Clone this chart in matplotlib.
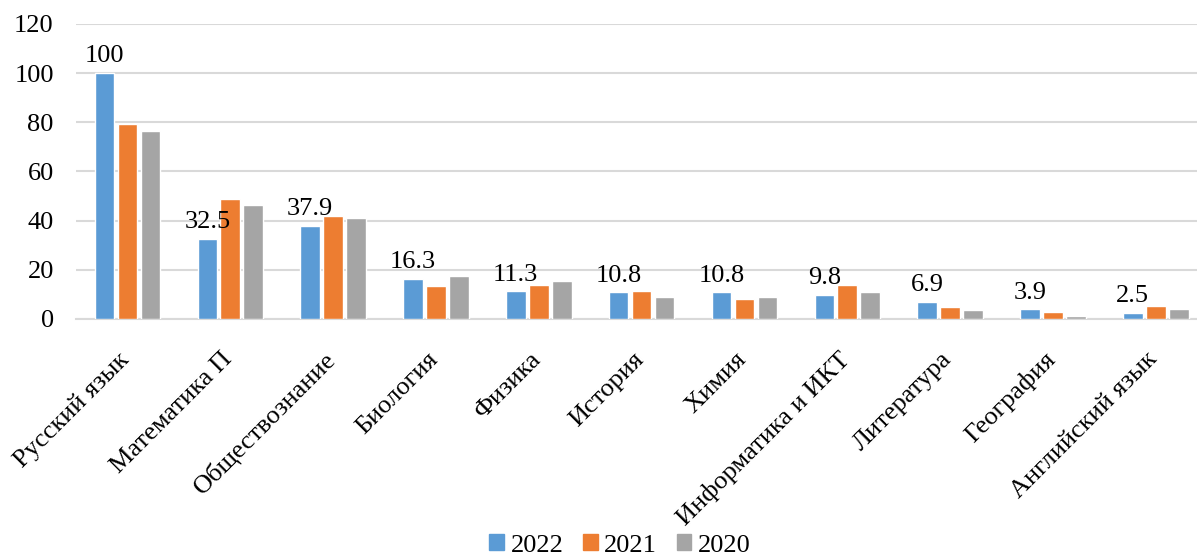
import numpy as np
import matplotlib.pyplot as plt
from matplotlib.patches import Patch

# Data
subjects = ["Русский язык", "Математика П", "Обществознание", "Биология", "Физика",
            "История", "Химия", "Информатика и ИКТ", "Литература", "География",
            "Английский язык"]
vals_2022 = [100, 32.5, 37.9, 16.3, 11.3, 10.8, 10.8, 9.8, 6.9, 3.9, 2.5]
vals_2021 = [79.1, 48.7, 41.8, 13.6, 13.8, 11.2, 8.3, 13.7, 4.9, 3.0, 5.2]
vals_2020 = [76.3, 46.3, 40.9, 17.5, 15.6, 8.8, 8.8, 10.9, 3.8, 1.2, 4.1]
years = ["2022", "2021", "2020"]
colors = ["#5B9BD5", "#ED7D31", "#A5A5A5"]

plt.rcParams['font.family'] = ['Liberation Serif', 'DejaVu Serif']

fig = plt.figure(figsize=(11.97, 5.6), dpi=100)
# the plot area runs a little past the right edge, as in the reference
ax = fig.add_axes([0.0635, 0.4304, 0.945, 0.527])

x = np.arange(len(subjects))
step = 0.2235
width = 0.19
series = [vals_2022, vals_2021, vals_2020]
bars = []
for i, (vals, col) in enumerate(zip(series, colors)):
    b = ax.bar(x + (i - 1) * step, vals, width, color=col, edgecolor='white',
               linewidth=1.0, zorder=3)
    bars.append(b)

# labels on the 2022 series only
for rect, v in zip(bars[0], vals_2022):
    ax.annotate(f"{v:g}", (rect.get_x() + rect.get_width() / 2, rect.get_height()),
                xytext=(0, 4), textcoords='offset points', ha='center', va='bottom',
                fontsize=19, zorder=4)

ax.set_xlim(-0.5, len(subjects) - 0.5)
ax.set_ylim(0, 120)
ax.set_yticks(range(0, 121, 20))
ax.yaxis.grid(True, color='#D9D9D9', linewidth=1.5, zorder=0)
ax.set_axisbelow(True)
for s in ['top', 'right', 'left']:
    ax.spines[s].set_visible(False)
ax.spines['bottom'].set_color('#D9D9D9')
ax.spines['bottom'].set_linewidth(1.5)
ax.tick_params(axis='both', length=0, labelsize=19)
ax.tick_params(axis='y', pad=16)
ax.set_xticks(x - 0.09)
ax.set_xticklabels(subjects, rotation=45, ha='right', va='top', rotation_mode='anchor')
ax.tick_params(axis='x', pad=21)

handles = [Patch(color=c, label=y) for c, y in zip(colors, years)]
fig.legend(handles=handles, loc='center', bbox_to_anchor=(0.518, 0.026), ncol=3,
           frameon=False, fontsize=19, handlelength=0.55, handleheight=0.55,
           handletextpad=0.25, columnspacing=0.75)

fig.savefig("out.png", dpi=100)
